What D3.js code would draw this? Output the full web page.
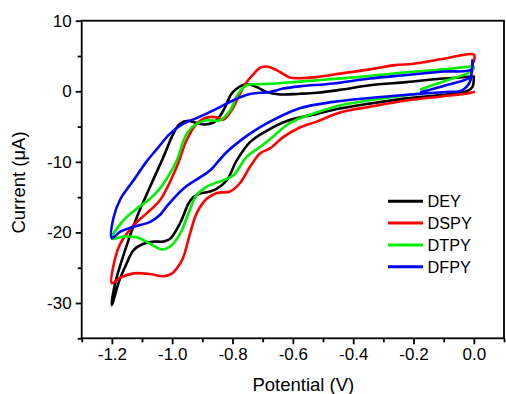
<!DOCTYPE html>
<html>
<head>
<meta charset="utf-8">
<script src="https://cdn.jsdelivr.net/npm/d3@7"></script>
<style>
  html, body { margin: 0; padding: 0; background: #fff; }
  svg { display: block; font-family: "Liberation Sans", Arial, sans-serif; }
</style>
</head>
<body>
<svg id="chart" width="506" height="394"></svg>
<script>
// ---- data ----
const seriesNames = ["DEY", "DSPY", "DTPY", "DFPY"];
const seriesColors = ["#000000", "#ff0000", "#00ee00", "#0000ff"];

const deyPotential = [0.0, -0.1, -0.223, -0.345, -0.444, -0.52, -0.577, -0.643, -0.687, -0.72, -0.753, -0.775, -0.803, -0.83, -0.858, -0.891, -0.919, -0.946, -0.974, -0.996, -1.029, -1.073, -1.117, -1.156, -1.189, -1.2,
  -1.175, -1.15, -1.128, -1.095, -1.06, -1.03, -1.007, -0.974, -0.946, -0.93, -0.908, -0.874, -0.852, -0.819, -0.786, -0.742, -0.687, -0.62, -0.52, -0.444, -0.345, -0.223, -0.1, -0.024, -0.005, 0.0];
const deyCurrent = [2.1, 1.8, 1.3, 0.85, 0.2, -0.2, -0.35, -0.45, -0.1, 0.6, 1.0, 0.7, -0.33, -2.7, -4.3, -4.7, -4.5, -4.2, -4.6, -6.0, -9.3, -13.5, -17.8, -22.5, -27.2, -30.3,
  -26.8, -24.3, -22.5, -21.6, -21.3, -21.3, -20.9, -18.7, -15.9, -15.0, -14.5, -14.2, -13.8, -12.6, -9.8, -7.2, -5.6, -4.2, -3.2, -2.45, -1.75, -1.0, -0.5, 0.0, 0.6, 2.1];

const dspyPotential = [0.0, 0.0, -0.1, -0.2, -0.26, -0.345, -0.444, -0.521, -0.58, -0.61, -0.654, -0.687, -0.71, -0.731, -0.753, -0.775, -0.803, -0.83, -0.852, -0.885, -0.919, -0.952, -0.985, -1.04, -1.085, -1.128, -1.172, -1.19, -1.2,
  -1.172, -1.128, -1.073, -1.03, -1.0, -0.975, -0.963, -0.941, -0.919, -0.885, -0.852, -0.808, -0.775, -0.742, -0.709, -0.676, -0.632, -0.58, -0.521, -0.444, -0.345, -0.223, -0.1, -0.02, 0.0];
const dspyCurrent = [4.2, 5.2, 4.6, 3.9, 3.7, 3.1, 2.5, 2.0, 1.85, 1.95, 3.0, 3.5, 3.3, 2.4, 1.3, -0.33, -2.7, -4.0, -3.7, -3.7, -4.6, -6.9, -10.7, -15.4, -17.3, -19.0, -21.6, -23.8, -27.2,
  -26.4, -25.8, -25.9, -26.2, -25.8, -24.5, -23.5, -20.2, -17.3, -15.2, -14.4, -14.2, -13.0, -10.7, -8.8, -8.1, -6.5, -5.2, -4.3, -3.0, -2.2, -1.3, -0.7, -0.3, -0.1];

const dtpyPotential = [-0.175, -0.1, -0.014, 0.0, -0.1, -0.223, -0.389, -0.521, -0.6, -0.676, -0.72, -0.753, -0.781, -0.808, -0.841, -0.885, -0.919, -0.952, -0.985, -1.018, -1.051, -1.084, -1.117, -1.162, -1.2,
  -1.162, -1.117, -1.073, -1.034, -1.007, -0.974, -0.946, -0.919, -0.885, -0.83, -0.797, -0.753, -0.709, -0.676, -0.61, -0.521, -0.444, -0.345, -0.25, -0.175];
const dtpyCurrent = [0.3, 1.4, 2.7, 3.4, 3.1, 2.7, 2.0, 1.55, 1.3, 1.05, 1.0, 0.85, -0.33, -2.7, -4.1, -4.1, -4.6, -6.0, -9.8, -12.4, -14.3, -15.6, -16.6, -18.3, -20.9,
  -20.6, -20.7, -21.6, -22.4, -22.0, -20.2, -17.3, -14.7, -13.5, -12.6, -11.9, -9.3, -7.9, -6.8, -4.5, -3.0, -2.0, -1.27, -0.7, -0.3];

const dfpyPotential = [-0.175, -0.09, -0.012, -0.006, -0.005, -0.008, -0.1, -0.223, -0.345, -0.466, -0.577, -0.632, -0.676, -0.742, -0.797, -0.852, -0.908, -0.963, -1.007, -1.051, -1.084, -1.128, -1.172, -1.195, -1.2,
  -1.172, -1.128, -1.073, -1.04, -1.018, -0.963, -0.908, -0.874, -0.819, -0.742, -0.676, -0.577, -0.466, -0.345, -0.25, -0.175, -0.09, -0.047, -0.025, -0.011, -0.008];
const dfpyCurrent = [-0.1, 0.9, 2.0, 3.2, 4.4, 3.1, 2.8, 2.3, 1.8, 1.1, 0.7, 0.38, -0.1, -0.4, -1.27, -2.45, -3.6, -4.6, -6.0, -8.2, -9.9, -12.6, -15.3, -18.0, -20.8,
  -19.9, -19.2, -18.5, -17.5, -16.3, -13.8, -12.2, -11.2, -8.6, -6.0, -4.3, -2.4, -1.5, -0.95, -0.6, -0.35, -0.1, 0.0, 0.6, 1.56, 3.0];

const xTickValues = [-1.2, -1.0, -0.8, -0.6, -0.4, -0.2, 0.0];
const xMinorTicks = [-1.3, -1.1, -0.9, -0.7, -0.5, -0.3, -0.1, 0.1];
const yTickValues = [10, 0, -10, -20, -30];
const yMinorTicks = [5, -5, -15, -25, -35];

const xTitle = "Potential (V)";
const yTitle = "Current (\u03bcA)";

// ---- build ----
const potentials = [deyPotential, dspyPotential, dtpyPotential, dfpyPotential];
const currents = [deyCurrent, dspyCurrent, dtpyCurrent, dfpyCurrent];
const series = seriesNames.map((name, i) => ({
  name, color: seriesColors[i],
  points: potentials[i].map((v, j) => [v, currents[i][j]])
}));

const svg = d3.select("#chart");
const plotL = 81.7, plotR = 504, plotT = 20.7, plotB = 338.3;

const x = d3.scaleLinear().domain([-1.3, 0.1]).range([plotL, plotR]);
const y = d3.scaleLinear().domain([-35, 10]).range([plotB, plotT]);

// curves
const line = d3.line()
  .x(d => x(d[0]))
  .y(d => y(d[1]))
  .curve(d3.curveCatmullRom.alpha(0.5));

svg.append("g").selectAll("path")
  .data(series)
  .join("path")
  .attr("d", d => line(d.points))
  .attr("fill", "none")
  .attr("stroke", d => d.color)
  .attr("stroke-width", 2.6)
  .attr("stroke-linejoin", "round")
  .attr("stroke-linecap", "round");

// frame
svg.append("rect")
  .attr("x", plotL).attr("y", plotT)
  .attr("width", plotR - plotL).attr("height", plotB - plotT)
  .attr("fill", "none").attr("stroke", "#000").attr("stroke-width", 1.8);

// x axis
const xAxis = d3.axisBottom(x).tickValues(xTickValues).tickSize(6).tickPadding(4);
const gx = svg.append("g").attr("transform", `translate(0,${plotB})`).call(xAxis);
gx.select(".domain").remove();
gx.selectAll(".tick line").attr("stroke-width", 1.8);
gx.selectAll(".tick text").attr("font-size", 17).attr("fill", "#000")
  .attr("font-family", "Liberation Sans, Arial, sans-serif")
  .text(d => d.toFixed(1));
const gxm = svg.append("g").attr("transform", `translate(0,${plotB})`)
  .call(d3.axisBottom(x).tickValues(xMinorTicks).tickSize(4).tickFormat(""));
gxm.select(".domain").remove();
gxm.selectAll(".tick line").attr("stroke-width", 1.8);

// y axis
const yAxis = d3.axisLeft(y).tickValues(yTickValues).tickSize(6).tickPadding(4);
const gy = svg.append("g").attr("transform", `translate(${plotL},0)`).call(yAxis);
gy.select(".domain").remove();
gy.selectAll(".tick line").attr("stroke-width", 1.8);
gy.selectAll(".tick text").attr("font-size", 17).attr("fill", "#000")
  .attr("font-family", "Liberation Sans, Arial, sans-serif")
  .text(d => String(d));
const gym = svg.append("g").attr("transform", `translate(${plotL},0)`)
  .call(d3.axisLeft(y).tickValues(yMinorTicks).tickSize(4).tickFormat(""));
gym.select(".domain").remove();
gym.selectAll(".tick line").attr("stroke-width", 1.8);

// axis titles
svg.append("text")
  .attr("x", 303.3).attr("y", 391)
  .attr("text-anchor", "middle").attr("font-size", 18.5).attr("fill", "#000")
  .text(xTitle);
svg.append("text")
  .attr("transform", `translate(25,182.5) rotate(-90)`)
  .attr("text-anchor", "middle").attr("font-size", 18.5).attr("fill", "#000")
  .text(yTitle);

// legend
const legend = svg.append("g");
const lg = legend.selectAll("g").data(series).join("g")
  .attr("transform", (d, i) => `translate(388,${201.3 + i * 21.8})`);
lg.append("line").attr("x1", 0).attr("x2", 35).attr("y1", 0).attr("y2", 0)
  .attr("stroke", d => d.color).attr("stroke-width", 3);
lg.append("text").attr("x", 39.5).attr("y", 6).attr("font-size", 16.3).attr("fill", "#000")
  .text(d => d.name);
</script>
</body>
</html>
